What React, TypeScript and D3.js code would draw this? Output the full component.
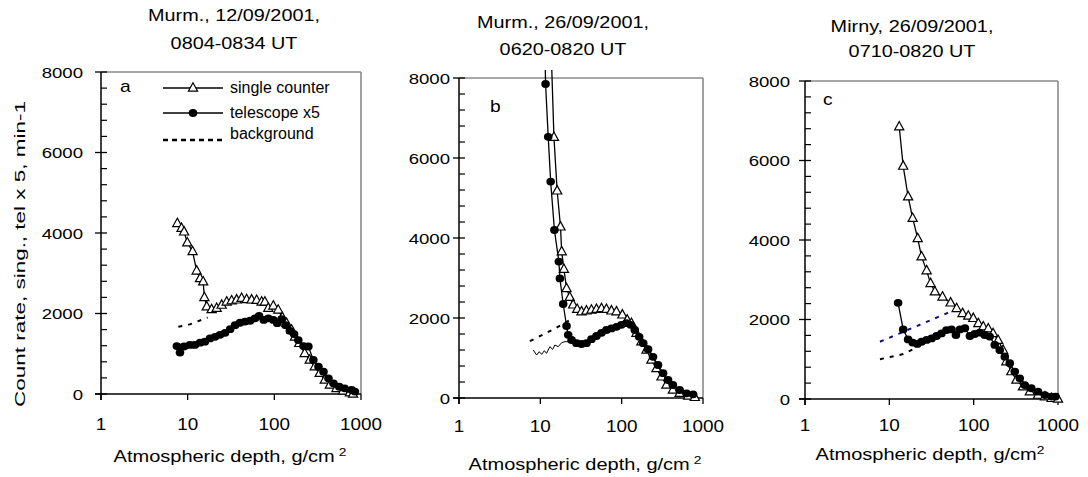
import React from 'react';
import * as d3 from 'd3';

type Pt = [number, number];

const depthTicks = [1, 10, 100, 1000];
const countTicks = [0, 2000, 4000, 6000, 8000];
const minorStep = 400;

const titlesA = ['Murm., 12/09/2001,', '0804-0834 UT'];
const titlesB = ['Murm., 26/09/2001,', '0620-0820 UT'];
const titlesC = ['Mirny, 26/09/2001,', '0710-0820 UT'];
const letters = ['a', 'b', 'c'];
const legendLabels = ['single counter', 'telescope x5', 'background'];
const yTitle = 'Count rate, sing., tel x 5, min-1';
const xTitle = 'Atmospheric depth, g/cm';

// Panel a (Murmansk 12/09/2001)
const singleA: Pt[] = [
  [7.6, 4240], [8.5, 4120], [9.1, 4030], [9.9, 3760], [11.4, 3540], [12.7, 3060], [13.9, 2870],
  [15.1, 2790], [15.6, 2400], [16.6, 2170], [18.9, 2100], [21.6, 2130], [24.7, 2210], [28.2, 2290],
  [32.2, 2320], [36.7, 2340], [41.9, 2380], [47.9, 2350], [54.7, 2340], [62.5, 2330], [71.3, 2290],
  [77.7, 2290], [85.2, 2130], [97.4, 2190], [110.8, 2090], [123.8, 1900], [138.4, 1760], [158.3, 1590],
  [173, 1420], [194, 1260], [224, 1010], [256, 845], [293, 680], [334, 515], [382, 350], [437, 225],
  [521, 140], [620, 75], [745, 35], [810, 0],
];
const teleA: Pt[] = [
  [7.5, 1190], [8.15, 1030], [9.06, 1180], [10.6, 1220], [12.1, 1220], [13.9, 1275], [15.8, 1300],
  [18.1, 1380], [20.7, 1420], [23.6, 1470], [27, 1520], [30.9, 1610], [35.2, 1710], [40.2, 1770],
  [45.9, 1800], [52.5, 1820], [59.9, 1880], [66.7, 1940], [75.6, 1840], [85.2, 1880], [97.4, 1840],
  [108, 1760], [121, 1860], [135, 1710], [151, 1570], [169, 1490], [189, 1340], [217, 1190],
  [247, 1180], [282, 845], [323, 680], [369, 555], [421, 390], [481, 265], [561, 180], [648, 140],
  [780, 100], [850, 60],
];
const bgA: Pt[] = [[7.8, 1670], [10.6, 1730], [17, 1900]];

// Panel b (Murmansk 26/09/2001)
const singleB: Pt[] = [
  [13.2, 9500], [14.7, 6520], [16.1, 5180], [17.7, 4280], [18.3, 3660], [19.5, 3220], [21, 2740],
  [23, 2520], [25.3, 2330], [28.4, 2220], [32.1, 2160], [36.9, 2180], [42.5, 2200], [49, 2220],
  [56.5, 2240], [65, 2220], [74.9, 2180], [86.3, 2160], [102, 2080], [117, 1950], [132, 1870],
  [152, 1620], [175, 1410], [202, 1200], [232, 950], [268, 740], [309, 530], [355, 325], [426, 200],
  [516, 120], [657, 50], [794, 17],
];
const teleB: Pt[] = [
  [11.2, 9500], [11.6, 7850], [12.5, 6530], [13.4, 5410], [14.9, 4200], [16.9, 3410], [17.4, 2990],
  [19.1, 2350], [21, 1800], [22, 1580], [24.2, 1450], [27.8, 1370], [32.1, 1350], [36.9, 1370],
  [42.5, 1470], [49, 1550], [56.5, 1630], [65, 1700], [74.9, 1740], [86.3, 1780], [99, 1830],
  [114, 1870], [129, 1830], [145, 1700], [164, 1530], [184, 1370], [211, 1220], [243, 1030],
  [280, 825], [323, 620], [372, 450], [426, 325], [516, 200], [628, 117], [756, 92],
];
const bgB: Pt[] = [[7.45, 1420], [14, 1700], [25, 1990]];
const bgNoiseB: Pt[] = [
  [8.19, 1200], [9.0, 1075], [9.7, 1158], [10.4, 1092], [11.2, 1183], [11.9, 1117], [13.1, 1283],
  [14.2, 1217], [15.1, 1325], [16.6, 1283], [18.3, 1383], [20.1, 1408], [23.1, 1408],
];

// Panel c (Mirny 26/09/2001)
const singleC: Pt[] = [
  [13.1, 6850], [14.6, 5860], [16.7, 5090], [18.9, 4550], [21.7, 4040], [24.1, 3580], [27.7, 3230],
  [30.8, 2910], [34.7, 2700], [42.7, 2570], [53.3, 2420], [62.8, 2280], [73.9, 2155], [86.4, 2090],
  [98.9, 2030], [113.7, 1900], [130, 1820], [149, 1770], [170, 1650], [195, 1480], [223, 1230],
  [244, 940], [280, 690], [321, 480], [385, 310], [463, 185], [580, 100], [700, 60], [839, 17],
  [1000, 0],
];
const teleC: Pt[] = [
  [12.7, 2420], [14.6, 1750], [16.7, 1500], [18.9, 1420], [21.5, 1385], [24.1, 1440], [27.7, 1485],
  [31.7, 1525], [36.3, 1585], [41.5, 1650], [47.6, 1735], [54.6, 1750], [61.6, 1610], [68.8, 1750],
  [78.7, 1780], [90.2, 1585], [103, 1635], [118, 1670], [135, 1610], [155, 1570], [178, 1360],
  [204, 1230], [234, 1065], [268, 900], [307, 690], [352, 520], [404, 350], [482, 270], [580, 185],
  [700, 100], [839, 60], [934, 60],
];
const bgBlueC: Pt[] = [[7.74, 1440], [49.8, 2170]];
const bgC: Pt[] = [[7.74, 1000], [10.6, 1065], [14.6, 1130], [20.1, 1275]];

interface Panel {
  left: number; right: number; top: number; bottom: number;
  titles: string[]; titleX: number; titleY: number[];
  letter: string; letterPos: [number, number];
  yLabelGap: number; xLabelY: number; xTitleX: number; xTitleY: number; supGap: string;
  single: Pt[]; tele: Pt[];
  bgDashed: { pts: Pt[]; color: string }[];
  bgSolid?: Pt[];
}

const panels: Panel[] = [
  {
    left: 101, right: 361, top: 72, bottom: 394,
    titles: titlesA, titleX: 234, titleY: [21, 49],
    letter: letters[0], letterPos: [120, 92],
    yLabelGap: 18, xLabelY: 430, xTitleX: 230, xTitleY: 462, supGap: '\u2009',
    single: singleA, tele: teleA,
    bgDashed: [{ pts: bgA, color: '#000' }],
  },
  {
    left: 459, right: 703, top: 78, bottom: 398,
    titles: titlesB, titleX: 563, titleY: [28, 55],
    letter: letters[1], letterPos: [490, 112],
    yLabelGap: 9, xLabelY: 432, xTitleX: 585, xTitleY: 470, supGap: '\u2009',
    single: singleB, tele: teleB,
    bgDashed: [{ pts: bgB, color: '#000' }],
    bgSolid: bgNoiseB,
  },
  {
    left: 805, right: 1058, top: 81, bottom: 399,
    titles: titlesC, titleX: 912, titleY: [32, 57],
    letter: letters[2], letterPos: [823, 105],
    yLabelGap: 15, xLabelY: 431, xTitleX: 930, xTitleY: 460, supGap: '',
    single: singleC, tele: teleC,
    bgDashed: [{ pts: bgBlueC, color: '#101080' }, { pts: bgC, color: '#000' }],
  },
];

const FONT = "'Liberation Sans', Arial, Helvetica, sans-serif";

function SText(props: {
  x: number; y: number; sx?: number; anchor?: string; size?: number; rotate?: number;
  children: React.ReactNode;
}) {
  const { x, y, sx = 1, anchor = 'middle', size = 16, rotate = 0, children } = props;
  return (
    <text
      transform={`translate(${x},${y}) rotate(${rotate}) scale(${sx},1)`}
      textAnchor={anchor as any}
      fontSize={size}
      fontFamily={FONT}
      fill="#000"
    >
      {children}
    </text>
  );
}

const triPath = 'M0,-5.2 L4.6,3.2 L-4.6,3.2 Z';

function PanelView({ p, idx }: { p: Panel; idx: number }) {
  const x = d3.scaleLog().domain([1, 1000]).range([p.left, p.right]);
  const y = d3.scaleLinear().domain([0, 8000]).range([p.bottom, p.top]);
  const line = d3.line<Pt>().x((d) => x(d[0])).y((d) => y(d[1]));
  const minors = d3.range(0, 8000 + 1, minorStep).filter((v) => v % 2000 !== 0);
  const clipId = `clip${idx}`;
  const visible = (d: Pt) => d[1] <= 8000;
  return (
    <g>
      <defs>
        <clipPath id={clipId}>
          <rect x={p.left} y={p.top - 8} width={p.right - p.left + 10} height={p.bottom - p.top + 20} />
        </clipPath>
      </defs>
      {/* titles */}
      {p.titles.map((t, i) => (
        <SText key={i} x={p.titleX} y={p.titleY[i]} sx={1.24} size={16}>{t}</SText>
      ))}
      {/* frame: top & right gray */}
      <line x1={p.left} x2={p.right} y1={p.top} y2={p.top} stroke="#8a8a8a" strokeWidth={1.6} />
      <line x1={p.right} x2={p.right} y1={p.top} y2={p.bottom} stroke="#8a8a8a" strokeWidth={1.6} />
      {/* axes */}
      <line x1={p.left} x2={p.left} y1={p.top} y2={p.bottom + 6} stroke="#000" strokeWidth={1.5} />
      <line x1={p.left - 6} x2={p.right} y1={p.bottom} y2={p.bottom} stroke="#000" strokeWidth={1.5} />
      {countTicks.map((v) => (
        <g key={v}>
          <line x1={p.left - 6} x2={p.left + 6} y1={y(v)} y2={y(v)} stroke="#000" strokeWidth={1.3} />
          <SText x={p.left - p.yLabelGap} y={y(v) + 5.5} sx={1.2} size={15.5} anchor="end">{String(v)}</SText>
        </g>
      ))}
      {minors.map((v) => (
        <line key={v} x1={p.left} x2={p.left + 6} y1={y(v)} y2={y(v)} stroke="#000" strokeWidth={1.2} />
      ))}
      {depthTicks.map((d) => (
        <g key={d}>
          <line x1={x(d)} x2={x(d)} y1={p.bottom} y2={p.bottom + 6} stroke="#000" strokeWidth={1.3} />
          <SText x={x(d)} y={p.xLabelY} sx={1.18} size={16}>{String(d)}</SText>
        </g>
      ))}
      <SText x={p.xTitleX} y={p.xTitleY} sx={1.25} size={16}>
        <tspan>{xTitle + p.supGap}</tspan>
        <tspan dy={-6} fontSize={11}>2</tspan>
      </SText>
      <SText x={p.letterPos[0]} y={p.letterPos[1]} sx={1.2} size={16} anchor="start">{p.letter}</SText>
      <g clipPath={`url(#${clipId})`}>
        {p.bgSolid && (
          <path d={line(p.bgSolid) || ''} fill="none" stroke="#000" strokeWidth={1} />
        )}
        {p.bgDashed.map((b, i) => (
          <path key={i} d={line(b.pts) || ''} fill="none" stroke={b.color} strokeWidth={2} strokeDasharray="4,6" />
        ))}
        <path d={line(p.single) || ''} fill="none" stroke="#000" strokeWidth={1.3} />
        {p.single.filter(visible).map((d, i) => (
          <path key={i} d={triPath} transform={`translate(${x(d[0])},${y(d[1])})`} fill="#fff" stroke="#000" strokeWidth={1.2} />
        ))}
        <path d={line(p.tele) || ''} fill="none" stroke="#000" strokeWidth={1.3} />
        {p.tele.filter(visible).map((d, i) => (
          <ellipse key={i} cx={x(d[0])} cy={y(d[1])} rx={4.3} ry={3.9} fill="#000" />
        ))}
      </g>
    </g>
  );
}

export default function App() {
  const lx1 = 163, lx2 = 223, lmid = 193;
  const ly = [88, 113, 139];
  return (
    <svg width={1088} height={477} style={{ position: 'absolute', left: 0, top: 0, background: '#fff' }}>
      <rect x={0} y={0} width={1088} height={477} fill="#fff" />
      {panels.map((p, i) => <PanelView key={i} p={p} idx={i} />)}
      {/* y axis title */}
      <SText x={25} y={254} rotate={-90} sx={1.45} size={15.5}>{yTitle}</SText>
      {/* legend */}
      <g>
        <line x1={lx1} x2={lx2} y1={ly[0]} y2={ly[0]} stroke="#000" strokeWidth={1.3} />
        <path d={triPath} transform={`translate(${lmid},${ly[0]})`} fill="#fff" stroke="#000" strokeWidth={1.2} />
        <SText x={230} y={ly[0] + 5} size={16} anchor="start">{legendLabels[0]}</SText>
        <line x1={lx1} x2={lx2} y1={ly[1]} y2={ly[1]} stroke="#000" strokeWidth={1.3} />
        <ellipse cx={lmid} cy={ly[1]} rx={4.3} ry={3.9} fill="#000" />
        <SText x={230} y={ly[1] + 5} size={16} anchor="start">{legendLabels[1]}</SText>
        <line x1={lx1} x2={lx2} y1={ly[2] + 1} y2={ly[2] + 1} stroke="#000" strokeWidth={2.5} strokeDasharray="5,4" />
        <SText x={230} y={ly[2]} size={16} anchor="start">{legendLabels[2]}</SText>
      </g>
    </svg>
  );
}
